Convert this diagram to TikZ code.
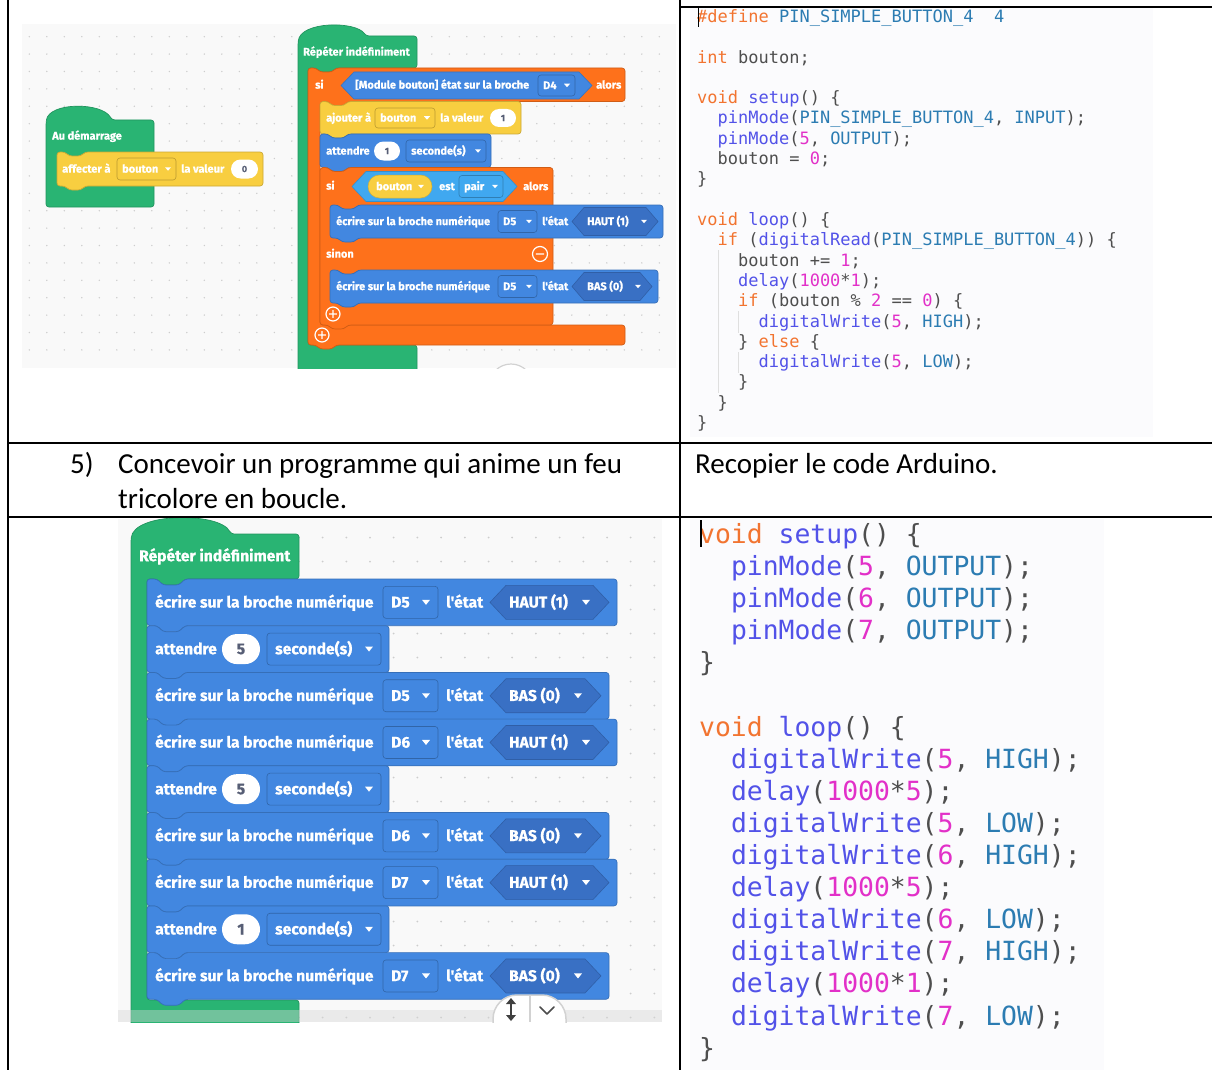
\documentclass[tikz,border=0pt]{standalone}
\usepackage{fontspec}
\setmainfont{Carlito}
\newfontfamily\blkfont{Fira Sans}[BoldFeatures={FakeBold=0.7}]
\newfontfamily\codefont{DejaVu Sans Mono}
\usetikzlibrary{shapes.misc}

\definecolor{bgreen}{RGB}{41,180,115}
\definecolor{borange}{RGB}{254,113,27}
\definecolor{byellow}{RGB}{248,206,64}
\definecolor{bblue}{RGB}{66,135,224}
\definecolor{bdark}{RGB}{57,112,196}
\definecolor{blight}{RGB}{64,168,240}
\definecolor{cdark}{RGB}{87,94,117}
\definecolor{panebg}{RGB}{249,249,249}
\definecolor{dotc}{RGB}{205,205,205}
\definecolor{codebg}{RGB}{251,251,253}
\definecolor{ckw}{RGB}{242,116,48}
\definecolor{cfn}{RGB}{82,82,232}
\definecolor{cct}{RGB}{44,124,178}
\definecolor{cnum}{RGB}{226,48,200}
\definecolor{ctx}{RGB}{78,78,78}

% syntax colouring
\newcommand\K[1]{\textcolor{ckw}{#1}}
\newcommand\F[1]{\textcolor{cfn}{#1}}
\newcommand\C[1]{\textcolor{cct}{#1}}
\newcommand\N[1]{\textcolor{cnum}{#1}}

% statement block with top notch and bottom tab
\newcommand\stmt[4]{(#1,#2) -- ++(\bnx,0) -- ++(\bnd,\bnd) -- ++(\bnw,0) -- ++(\bnd,-\bnd) -- (#1+#3,#2) -- (#1+#3,#2+#4) -- (#1+\bnx+\bnd+\bnd+\bnw,#2+#4) -- ++(-\bnd,\bnd) -- ++(-\bnw,0) -- ++(-\bnd,-\bnd) -- (#1,#2+#4) -- cycle}
% hexagonal value slot: x1, x2, yc, h, point depth
\newcommand\hexa[5]{(#1,#3) -- (#1+#5,#3-#4/2) -- (#2-#5,#3-#4/2) -- (#2,#3) -- (#2-#5,#3+#4/2) -- (#1+#5,#3+#4/2) -- cycle}
% dropdown field: name, x1, x2, yc, h, text, fill, text style
\newcommand\dropd[8]{%
  \draw[fill=#7, draw=#7!75!black, line width=.6pt, rounded corners=3pt] (#2,#4-#5/2) rectangle (#3,#4+#5/2);
  \node[#8] (#1) at (#2+\ddpad,#4+\boff) {#6};
  \fill[white] (#3-\ddpad-\tgw,#4-\tgh/2) -- ++(\tgw,0) -- ++(-\tgw/2,\tgh) -- cycle;}
% small round plus / minus buttons
\newcommand\plusic[3]{\draw[white, line width=1.2pt] (#1,#2) circle[radius=#3pt] (#1-#3*0.55,#2) -- (#1+#3*0.55,#2) (#1,#2-#3*0.55) -- (#1,#2+#3*0.55);}
\newcommand\minusic[3]{\draw[white, line width=1.2pt] (#1,#2) circle[radius=#3pt] (#1-#3*0.55,#2) -- (#1+#3*0.55,#2);}

% rows of the traffic-light program
\newcommand\ecrire[5]{%
  \path[blk=bblue] \stmt{147}{#2}{#5-147}{\bh};
  \node[bt] (#1t) at (155,#2+\bh/2+\boff) {écrire sur la broche numérique};
  \dropd{#1p}{383}{438}{#2+\bh/2}{32}{#3}{bblue}{bt}
  \node[bt] (#1e) at (446,#2+\bh/2+\boff) {l'état};
  \path[hexs=bdark] \hexa{490}{#5-8}{#2+\bh/2}{34}{16};
  \node[bt] (#1s) at (509,#2+\bh/2+\boff) {#4};
  \fill[white] (#5-35,#2+\bh/2-2.5) -- ++(8,0) -- ++(-4,5) -- cycle;}
\newcommand\attendre[3]{%
  \path[blk=bblue] \stmt{147}{#2}{242}{\bh};
  \node[bt] (#1t) at (155,#2+\bh/2+\boff) {attendre};
  \node[oval, font=\blkfont\bfseries\fontsize{15.5}{17}\selectfont, minimum width=38pt, minimum height=30pt] (#1n) at (241,#2+\bh/2) {#3};
  \dropd{#1d}{267}{381}{#2+\bh/2}{32}{seconde(s)}{bblue}{bt}}

% code lines
\newcommand\ca[4]{\node[ctop] (#1) at ({697+#3*10.23},{17+#2*20.3+5.5}) {#4};}
\newcommand\cb[4]{\node[cbot] (#1) at ({699+#3*15.9},{535+#2*32.1+8.5}) {#4};}

\begin{document}
\begin{tikzpicture}[x=1pt,y=-1pt,
  blk/.style={fill=#1, draw=#1!82!black, line width=.7pt, rounded corners=3pt},
  hexs/.style={fill=#1, draw=#1!85!black, line width=.6pt},
  bt/.style={font=\blkfont\bfseries\fontsize{15.6}{17}\selectfont, text=white, inner sep=0pt, anchor=base west},
  tt/.style={font=\blkfont\bfseries\fontsize{11}{12}\selectfont, text=white, inner sep=0pt, anchor=base west},
  oval/.style={rounded rectangle, fill=white, inner sep=0pt, text=cdark},
  ctop/.style={font=\codefont\fontsize{17}{20}\selectfont, text=ctx, inner sep=0pt, anchor=base west},
  cbot/.style={font=\codefont\fontsize{26.4}{30}\selectfont, text=ctx, inner sep=0pt, anchor=base west},
  mid/.style={font=\fontsize{29}{33}\selectfont, text=black, inner sep=0pt, anchor=base west}]
\useasboundingbox (0,0) rectangle (1212,1070);
\fill[white] (0,0) rectangle (1212,1070);

% ---------- workspace backgrounds with dot grid ----------
\fill[panebg] (22,24) rectangle (676,368);
\foreach \i in {0,...,36}{\foreach \j in {0,...,18}{\fill[dotc] ({29.3+17.5*\i},{36.7+17.4*\j}) circle[radius=0.8pt];}}
\fill[panebg] (118,519) rectangle (662,1022);
\foreach \i in {0,...,22}{\foreach \j in {0,...,20}{\fill[dotc] ({133+23.7*\i},{537.5+24*\j}) circle[radius=1pt];}}

% code editor backgrounds
\fill[codebg] (690,8) rectangle (1153,437);
\fill[codebg] (690,519) rectangle (1104,1070);

% ---------- button program (small scale) ----------
\begin{scope}
\clip (22,24) rectangle (676,368);
\def\bnx{8}\def\bnd{4}\def\bnw{12}\def\ddpad{5}\def\boff{3.6}\def\tgw{6}\def\tgh{3.5}
% Au démarrage
\path[blk=bgreen] (46,207) -- (46,123) .. controls (49,102) and (102,102) .. (112,120) -- (154,120) -- (154,207) -- cycle;
\node[tt] (start) at (52,136+\boff) {Au démarrage};
\path[blk=byellow] \stmt{57}{152}{206}{34};
\node[tt] (setlbl) at (62,169+\boff) {affecter à};
\dropd{setvar}{117}{176}{169}{22}{bouton}{byellow}{tt}
\node[tt] (setval) at (181,169+\boff) {la valeur};
\node[oval, font=\blkfont\bfseries\fontsize{9}{10}\selectfont, minimum width=27pt, minimum height=19pt] (setnum) at (244.5,169) {0};

% Répéter indéfiniment
\path[blk=bgreen] (298,375) -- (298,44) .. controls (300,21) and (356,21) .. (366,36) -- (417,36) -- (417,68) -- (336,68) -- (332,72) -- (320,72) -- (316,68) -- (308,68) -- (308,345) -- (417,345) -- (417,375) -- cycle;
\node[tt] (loopA) at (303,52+\boff) {Répéter indéfiniment};

% outer si ... alors
\path[blk=borange] (308,68) -- (316,68) -- (320,72) -- (332,72) -- (336,68) -- (625,68) -- (625,101.5) -- (348,101.5) -- (344,105.5) -- (332,105.5) -- (328,101.5) -- (320,101.5) -- (320,325) -- (625,325) -- (625,345) -- (336,345) -- (332,349) -- (320,349) -- (316,345) -- (308,345) -- cycle;
\node[tt] (si1) at (315,85+\boff) {si};
\path[hexs=bblue] \hexa{341}{592}{85.5}{27}{13};
\node[tt] (btn) at (355,85+\boff) {[Module bouton] état sur la broche};
\dropd{btnpin}{538}{575}{85.5}{21}{D4}{bblue}{tt}
\node[tt] (alors1) at (596,85+\boff) {alors};

% ajouter à
\path[blk=byellow] \stmt{320}{101.5}{201}{32.5};
\node[tt] (addlbl) at (326,118+\boff) {ajouter à};
\dropd{addvar}{375}{435}{118}{20}{bouton}{byellow}{tt}
\node[tt] (addval) at (440,118+\boff) {la valeur};
\node[oval, font=\blkfont\bfseries\fontsize{9}{10}\selectfont, minimum width=26pt, minimum height=18pt] (addnum) at (503,118) {1};

% attendre
\path[blk=bblue] \stmt{320}{134}{171}{33.5};
\node[tt] (waitA) at (326,151+\boff) {attendre};
\node[oval, font=\blkfont\bfseries\fontsize{9}{10}\selectfont, minimum width=26pt, minimum height=19pt] (waitAn) at (387,151) {1};
\dropd{waitAu}{406}{486}{151}{22}{seconde(s)}{bblue}{tt}

% inner si ... alors / sinon
\path[blk=borange] \stmt{320}{167.5}{233}{157.5};
\node[tt] (si2) at (326,186+\boff) {si};
\path[hexs=blight] \hexa{352}{517}{186.5}{30}{14};
\node[rounded rectangle, fill=byellow, draw=byellow!85!black, line width=.5pt, minimum width=64pt, minimum height=23pt, inner sep=0pt] (parvar) at (400,186.5) {};
\node[tt] (parvart) at (376,186.5+\boff) {bouton};
\fill[white] (418,184.75) -- ++(6,0) -- ++(-3,3.5) -- cycle;
\node[tt] (est) at (439,186.5+\boff) {est};
\dropd{parity}{459}{503}{186.5}{22}{pair}{blight}{tt}
\node[tt] (alors2) at (523,186.5+\boff) {alors};

\path[blk=bblue] \stmt{330}{205}{333}{33};
\node[tt] (wr1) at (336,221.5+\boff) {écrire sur la broche numérique};
\dropd{wr1p}{498}{537}{221.5}{22}{D5}{bblue}{tt}
\node[tt] (wr1e) at (542,221.5+\boff) {l'état};
\path[hexs=bdark] \hexa{572}{658}{221.5}{28}{12};
\node[tt] (wr1s) at (587,221.5+\boff) {HAUT (1)};
\fill[white] (641,219.75) -- ++(6,0) -- ++(-3,3.5) -- cycle;

\node[tt] (sinon) at (326,254+\boff) {sinon};
\minusic{540}{254}{7.5}

\path[blk=bblue] \stmt{330}{270}{328}{33};
\node[tt] (wr2) at (336,286.5+\boff) {écrire sur la broche numérique};
\dropd{wr2p}{498}{537}{286.5}{22}{D5}{bblue}{tt}
\node[tt] (wr2e) at (542,286.5+\boff) {l'état};
\path[hexs=bdark] \hexa{572}{652}{286.5}{28}{12};
\node[tt] (wr2s) at (587,286.5+\boff) {BAS (0)};
\fill[white] (635,284.75) -- ++(6,0) -- ++(-3,3.5) -- cycle;

\plusic{333}{314}{7}
\plusic{322}{335}{7}

% zoom control, mostly hidden below the edge
\draw[fill=white, draw=gray!35, line width=1.2pt] (511,386) circle[radius=22pt];
\end{scope}

% ---------- traffic-light program ----------
\begin{scope}
\clip (118,518) rectangle (662,1022);
\def\bnx{10}\def\bnd{6}\def\bnw{16}\def\ddpad{8}\def\boff{5.2}\def\tgw{8}\def\tgh{5}\def\bh{46.7}
\path[blk=bgreen] (131,1040) -- (131,541) .. controls (133,512) and (220,512) .. (231,534) -- (299,534) -- (299,579) -- (185,579) -- (179,585) -- (163,585) -- (157,579) -- (147,579) -- (147,1000) -- (299,1000) -- (299,1040) -- cycle;
\node[bt] (loopB) at (139,556+\boff) {Répéter indéfiniment};

\ecrire{ra}{579}{D5}{HAUT (1)}{617}
\attendre{rb}{625.7}{5}
\ecrire{rc}{672.4}{D5}{BAS (0)}{609}
\ecrire{rd}{719.1}{D6}{HAUT (1)}{617}
\attendre{re}{765.8}{5}
\ecrire{rf}{812.5}{D6}{BAS (0)}{609}
\ecrire{rg}{859.2}{D7}{HAUT (1)}{617}
\attendre{rh}{905.9}{1}
\ecrire{ri}{952.6}{D7}{BAS (0)}{609}

% scroll bar strip and view controls
\fill[fill={rgb,255:red,214;green,214;blue,214}, fill opacity=0.42] (118,1010) rectangle (662,1022);
\draw[fill=white, draw=gray!35, line width=1.5pt, rounded corners=24pt] (493,995) rectangle (566,1060);
\draw[gray!35, line width=1.5pt] (530,996) -- (530,1022);
\draw[black!75, line width=2.2pt] (511,1003) -- (511,1016);
\fill[black!75] (506,1004) -- (516,1004) -- (511,998) -- cycle;
\fill[black!75] (506,1015) -- (516,1015) -- (511,1021) -- cycle;
\draw[black!70, line width=1.6pt, line cap=round, line join=round] (540,1007) -- (547,1014) -- (554,1007);
\end{scope}

% ---------- Arduino code, button program ----------
\ca{a0}{0}{0}{\K{\#define} \C{PIN\_SIMPLE\_BUTTON\_4}\ \ \C{4}}
\ca{a2}{2}{0}{\K{int} bouton;}
\ca{a4}{4}{0}{\K{void} \F{setup}() \{}
\ca{a5}{5}{2}{\F{pinMode}(\C{PIN\_SIMPLE\_BUTTON\_4}, \C{INPUT});}
\ca{a6}{6}{2}{\F{pinMode}(\N{5}, \C{OUTPUT});}
\ca{a7}{7}{2}{bouton = \N{0};}
\ca{a8}{8}{0}{\}}
\ca{a10}{10}{0}{\K{void} \F{loop}() \{}
\ca{a11}{11}{2}{\K{if} (\F{digitalRead}(\C{PIN\_SIMPLE\_BUTTON\_4})) \{}
\ca{a12}{12}{4}{bouton += \N{1};}
\ca{a13}{13}{4}{\F{delay}(\N{1000}*\N{1});}
\ca{a14}{14}{4}{\K{if} (bouton \% \N{2} == \N{0}) \{}
\ca{a15}{15}{6}{\F{digitalWrite}(\N{5}, \C{HIGH});}
\ca{a16}{16}{4}{\} \K{else} \{}
\ca{a17}{17}{6}{\F{digitalWrite}(\N{5}, \C{LOW});}
\ca{a18}{18}{4}{\}}
\ca{a19}{19}{2}{\}}
\ca{a20}{20}{0}{\}}
% indentation guides
\draw[gray!25, line width=.8pt] (718,250) -- (718,393);
\draw[gray!25, line width=.8pt] (738,311) -- (738,333) (738,352) -- (738,373);
% text cursor
\draw[black, line width=1.4pt] (698.5,8) -- (698.5,27);

% ---------- Arduino code, traffic light ----------
\cb{b0}{0}{0}{\K{void} \F{setup}() \{}
\cb{b1}{1}{2}{\F{pinMode}(\N{5}, \C{OUTPUT});}
\cb{b2}{2}{2}{\F{pinMode}(\N{6}, \C{OUTPUT});}
\cb{b3}{3}{2}{\F{pinMode}(\N{7}, \C{OUTPUT});}
\cb{b4}{4}{0}{\}}
\cb{b6}{6}{0}{\K{void} \F{loop}() \{}
\cb{b7}{7}{2}{\F{digitalWrite}(\N{5}, \C{HIGH});}
\cb{b8}{8}{2}{\F{delay}(\N{1000}*\N{5});}
\cb{b9}{9}{2}{\F{digitalWrite}(\N{5}, \C{LOW});}
\cb{b10}{10}{2}{\F{digitalWrite}(\N{6}, \C{HIGH});}
\cb{b11}{11}{2}{\F{delay}(\N{1000}*\N{5});}
\cb{b12}{12}{2}{\F{digitalWrite}(\N{6}, \C{LOW});}
\cb{b13}{13}{2}{\F{digitalWrite}(\N{7}, \C{HIGH});}
\cb{b14}{14}{2}{\F{delay}(\N{1000}*\N{1});}
\cb{b15}{15}{2}{\F{digitalWrite}(\N{7}, \C{LOW});}
\cb{b16}{16}{0}{\}}
\draw[black, line width=2pt] (700.5,520) -- (700.5,547);

% ---------- table text ----------
\node[mid] (qnum) at (70,473) {5)};
\node[mid] (q1) at (118,473) {Concevoir un programme qui anime un feu};
\node[mid] (q2) at (118,508) {tricolore en boucle.};
\node[mid] (qr) at (695,473) {Recopier le code Arduino.};

% ---------- table rules ----------
\draw[black, line width=2pt] (8,0) -- (8,1070);
\draw[black, line width=2pt] (680,0) -- (680,1070);
\draw[black, line width=2pt] (8,443) -- (1212,443);
\draw[black, line width=2pt] (8,517) -- (1212,517);
\draw[black, line width=2pt] (680,7) -- (1212,7);
\end{tikzpicture}
\end{document}
